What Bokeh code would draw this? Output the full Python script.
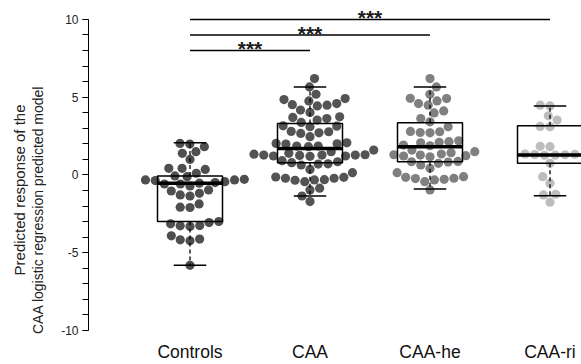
import numpy as np
from bokeh.plotting import figure
from bokeh.models import Range1d, SingleIntervalTicker, FixedTicker, ColumnDataSource
from bokeh.core.properties import value
from bokeh.embed import file_html
from bokeh.resources import INLINE

# ---------------- data ----------------
groups = ["Controls", "CAA", "CAA-he", "CAA-ri"]

controls = [1.82, 1.99, 2.03, 1.50, 1.39, 1.00, 0.43, 0.36, 0.43, 0.11, -0.11, -0.28,
            -0.36, -0.49, -0.32, -0.58, -0.71, -0.53, -0.58, -0.43, -0.32, -0.06,
            -0.96, -1.18, -1.35, -1.28, -1.03, -1.86, -2.07, -2.09, -2.99, -3.06,
            -3.25, -3.31, -3.27, -3.14, -4.12, -4.23, -4.17, -3.91, -5.81]

caa = [6.20, 5.66, 5.19, 4.91, 4.85, 4.76, 4.49, 4.44, 4.52, 4.59, 4.17, 4.02, 3.74,
       3.70, 3.63, 3.53, 3.38, 3.14, 3.10, 3.16, 2.78, 2.71, 2.67, 2.80, 2.46, 2.07,
       1.99, 2.03, 1.86, 2.00, 1.86, 1.82, 1.28, 1.22, 1.60, 1.39, 1.28, 1.30, 1.50,
       1.22, 1.20, 1.28, 1.26, 1.34, 0.92, 0.79, 0.70, 0.64, 0.72, 0.85, 0.36, 0.15,
       -0.21, -0.32, -0.30, -0.21, -0.43, -0.34, -0.15, -0.13, -0.85, -0.96, -1.35, -1.71]

caa_he = [6.20, 5.66, 5.19, 4.91, 4.76, 4.49, 4.59, 4.93, 4.12, 3.99, 3.63, 3.42, 3.10,
          2.78, 2.71, 2.73, 2.80, 2.14, 2.10, 2.20, 1.92, 1.88, 2.07, 1.28, 1.22, 1.60,
          1.50, 1.17, 1.43, 1.24, 1.35, 1.30, 0.85, 0.87, 0.64, 0.83, 0.75, 0.43, -0.15,
          -0.21, -0.28, -0.32, -0.43, -0.23, -0.11, 0.15, -0.96]

caa_ri = [4.44, 4.49, 3.80, 3.53, 3.10, 3.12, 1.82, 1.84, 1.33, 1.30, 1.27, 1.35, 1.28,
          1.31, 0.75, -0.11, -0.53, -1.24, -1.28, -1.75]

# box statistics
q1 = [-2.99, 0.79, 0.85, 0.75]
med = [-0.53, 1.71, 1.81, 1.28]
q3 = [-0.06, 3.31, 3.35, 3.16]
whisk_lo = [-5.81, -1.35, -0.90, -1.33]
whisk_hi = [2.07, 5.66, 5.66, 4.44]

dot_colors = ["#4f4f4f", "#545454", "#808080", "#bdbdbd"]

# significance comparisons (from group index, to group index, label, bar level)
comp_from = [0, 0, 0]
comp_to = [1, 2, 3]
comp_label = ["***", "***", "***"]
comp_level = [8, 9, 10]

y_ticks = [-10, -5, 0, 5, 10]
ylabel_line1 = "Predicted response of the"
ylabel_line2 = "CAA logistic regression predicted model"

# ---------------- layout (pixels) ----------------
W, H = 581, 364
AXIS_PX = 88          # screen x of the y-axis line
YPX = 15.6            # pixels per y unit
FRAME_H = 336
BOTTOM = H - FRAME_H
Y1 = 10 + 19 / YPX
Y0 = Y1 - FRAME_H / YPX
XPX = 120.0           # pixels per group
X0 = 1 - 189.5 / XPX
X1 = X0 + W / XPX


def sx(px):
    return X0 + px / XPX


def sy(py):
    return Y1 - py / YPX


FONT = "Liberation Sans"

p = figure(width=W, height=H, x_range=Range1d(X0, X1), y_range=Range1d(Y0, Y1),
           output_backend="svg", toolbar_location=None,
           min_border_left=0, min_border_right=0, min_border_top=0,
           min_border_bottom=BOTTOM)
p.outline_line_color = None
p.xgrid.visible = False
p.ygrid.visible = False
p.background_fill_color = "white"

# y axis drawn at fixed location
p.yaxis.fixed_location = sx(AXIS_PX)
p.yaxis.ticker = SingleIntervalTicker(interval=5, num_minor_ticks=5)
p.yaxis.major_label_overrides = {t: str(t) for t in y_ticks}
p.yaxis.bounds = (-10, 10)
p.yaxis.axis_line_color = "black"
p.yaxis.axis_line_width = 1
p.yaxis.major_tick_out = 6
p.yaxis.major_tick_in = 0
p.yaxis.minor_tick_out = 6
p.yaxis.minor_tick_in = 0
p.yaxis.major_tick_line_color = "black"
p.yaxis.minor_tick_line_color = "black"
p.yaxis.major_label_text_font = FONT
p.yaxis.major_label_text_font_size = "12px"
p.yaxis.major_label_text_color = "#222222"
p.yaxis.major_label_standoff = 4

# x axis
p.xaxis.ticker = FixedTicker(ticks=[1, 2, 3, 4])
p.xaxis.major_label_overrides = {i + 1: g for i, g in enumerate(groups)}
p.xaxis.axis_line_color = None
p.xaxis.major_tick_line_color = None
p.xaxis.minor_tick_line_color = None
p.xaxis.major_label_text_font = FONT
p.xaxis.major_label_text_font_size = "17.5px"
p.xaxis.major_label_text_color = "#111111"
p.xaxis.major_label_standoff = 0


def swarm(vals, d):
    """Deterministic beeswarm offsets in pixels."""
    vals = np.asarray(vals, dtype=float)
    order = np.argsort(vals, kind="stable")
    placed = []
    xs = np.zeros(len(vals))
    for i in order:
        y = vals[i] * YPX
        cands = [0.0]
        for (px, py) in placed:
            dy = abs(py - y)
            if dy < d:
                dx = np.sqrt(d * d - dy * dy)
                cands += [px - dx, px + dx]
        cands.sort(key=lambda c: (abs(c), c))
        for c in cands:
            if all((c - px) ** 2 + (y - py) ** 2 >= d * d - 1e-6 for px, py in placed):
                xs[i] = c
                placed.append((c, y))
                break
    return xs


series = [controls, caa, caa_he, caa_ri]
for gi, vals in enumerate(series):
    offs = swarm(vals, 9.8)
    src = ColumnDataSource(dict(x=(gi + 1) + offs / XPX, y=vals))
    p.scatter("x", "y", source=src, size=9.2, fill_color=dot_colors[gi], line_color=None)

# boxplots
centers = np.arange(1, len(groups) + 1)
bw = 65 / XPX
cw = bw / 2
bsrc = ColumnDataSource(dict(x=centers, q1=q1, q3=q3, med=med, lo=whisk_lo, hi=whisk_hi,
                             left=centers - bw / 2, right=centers + bw / 2,
                             cl=centers - cw / 2, cr=centers + cw / 2))
p.segment(x0="x", y0="q3", x1="x", y1="hi", source=bsrc, line_color="black",
          line_width=1.3, line_dash="4 3")
p.segment(x0="x", y0="q1", x1="x", y1="lo", source=bsrc, line_color="black",
          line_width=1.3, line_dash="4 3")
p.segment(x0="cl", y0="hi", x1="cr", y1="hi", source=bsrc, line_color="black", line_width=1.5)
p.segment(x0="cl", y0="lo", x1="cr", y1="lo", source=bsrc, line_color="black", line_width=1.5)
p.quad(left="left", right="right", bottom="q1", top="q3", source=bsrc, fill_color=None,
       line_color="black", line_width=1.5)
p.segment(x0="left", y0="med", x1="right", y1="med", source=bsrc, line_color="black",
          line_width=3.5)

# significance bars
cx0 = [c + 1 for c in comp_from]
cx1 = [c + 1 for c in comp_to]
ssrc = ColumnDataSource(dict(x0=cx0, x1=cx1, y=comp_level, label=comp_label,
                             xm=[(a + b) / 2 for a, b in zip(cx0, cx1)],
                             ty=[l + 0.12 for l in comp_level]))
p.segment(x0="x0", y0="y", x1="x1", y1="y", source=ssrc, line_color="black", line_width=1.5)
p.text(x="xm", y="ty", text="label", source=ssrc, text_align="center",
       text_baseline="alphabetic", text_font=value(FONT), text_font_size="21px",
       text_font_style="bold", text_color="#1a1a1a")

# y axis title (two rotated lines)
p.text(x=[sx(19)], y=[sy(190)], text=[ylabel_line1], angle=np.pi / 2, text_align="center",
       text_baseline="middle", text_font=value(FONT), text_font_size="15px",
       text_color="#222222")
p.text(x=[sx(37)], y=[sy(210)], text=[ylabel_line2], angle=np.pi / 2, text_align="center",
       text_baseline="middle", text_font=value(FONT), text_font_size="14px",
       text_color="#222222")

open("out.html", "w").write(file_html(p, INLINE))
